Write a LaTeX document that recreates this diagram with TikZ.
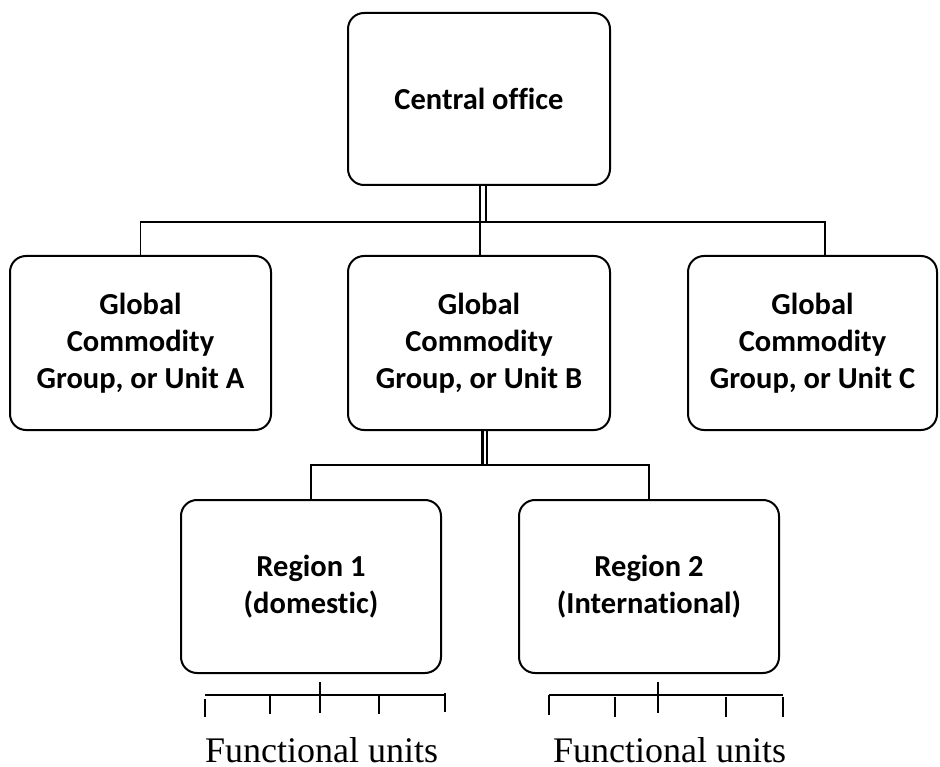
\documentclass[tikz,border=0pt]{standalone}
\usepackage{fontspec}
\setmainfont{Carlito}[Ligatures=NoCommon]
\newfontfamily\serifunits{Liberation Serif}
\begin{document}
\begin{tikzpicture}[x=1pt,y=-1pt,
  orgbox/.style={draw, line width=2pt, rounded corners=16pt, align=center,
    font=\fontsize{30.5}{37}\selectfont\bfseries, inner sep=0pt},
  conn/.style={line width=1.5pt},
  heavy/.style={line width=3pt},
  rake/.style={line width=1.4pt},
  unitlabel/.style={anchor=base, inner sep=0pt, text depth=0pt,
    font=\serifunits\fontsize{36}{40}\selectfont}]
\useasboundingbox (0,0) rectangle (940,767);

% boxes
\node[orgbox, minimum width=262pt, minimum height=172pt] (co) at (479,99) {Central office};
\node[orgbox, minimum width=261pt, minimum height=174pt] (A) at (140.5,343) {Global\\Commodity\\Group, or Unit A};
\node[orgbox, minimum width=262pt, minimum height=174pt] (B) at (479,343) {Global\\Commodity\\Group, or Unit B};
\node[orgbox, minimum width=249pt, minimum height=174pt] (C) at (812.5,343) {Global\\Commodity\\Group, or Unit C};
\node[orgbox, minimum width=260pt, minimum height=173pt] (R1) at (311,586.5) {Region 1\\(domestic)};
\node[orgbox, minimum width=260pt, minimum height=173pt] (R2) at (649,586.5) {Region 2\\(International)};

% helper coordinates
\coordinate (bus) at (480,222);
\coordinate (x486) at (486,0);
\coordinate (cin) at (825,0);
\coordinate (bus2) at (482,465);
\coordinate (x487) at (487,0);

% central office to the three groups
\draw[conn] (co.south -| bus) -- (bus);
\draw[conn] (co.south -| x486) -- (x486 |- bus);
\draw[conn] (A.north) -- (A.north |- bus) -- (cin |- bus) -- (cin |- C.north);
\draw[conn] (bus) -- (B.north -| bus);

% group B to the two regions
\draw[heavy] (B.south -| bus2) -- (bus2);
\draw[conn] (B.south -| x487) -- (x487 |- bus2);
\draw[conn] (R1.north) -- (R1.north |- bus2) -- (R2.north |- bus2) -- (R2.north);

% functional units under region 1
\draw[rake] (205,695) -- (445,695);
\draw[rake] (205,699) -- (205,717);
\draw[rake] (270,695) -- (270,714);
\draw[rake] (320,682) -- (320,713);
\draw[rake] (379,695) -- (379,714);
\draw[rake] (445,693) -- (445,712);

% functional units under region 2
\draw[rake] (549,695) -- (783,695);
\draw[rake] (549,695) -- (549,715);
\draw[rake] (615,697) -- (615,717);
\draw[rake] (658,682) -- (658,713);
\draw[rake] (726,697) -- (726,717);
\draw[rake] (783,697) -- (783,717);

\node[unitlabel] (fu1) at (321.5,762) {Functional units};
\node[unitlabel] (fu2) at (669.5,762) {Functional units};
\end{tikzpicture}
\end{document}
